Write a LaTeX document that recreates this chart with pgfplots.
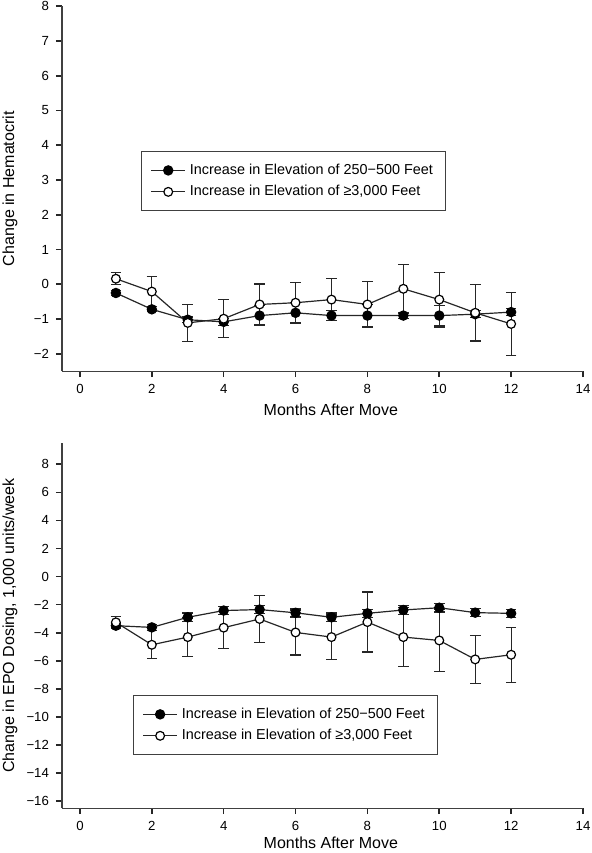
\documentclass[border=0pt]{standalone}
\usepackage{pgfplots}
\pgfplotsset{compat=1.18}
\usepackage{pgfplotstable}
\usepackage{fontspec}
\setmainfont{Liberation Sans}

\pgfplotstableread{
x y e
1 -0.25 0.07
2 -0.72 0.07
3 -1.02 0.08
4 -1.08 0.10
5 -0.90 0.29
6 -0.82 0.30
7 -0.90 0.15
8 -0.90 0.33
9 -0.90 0.08
10 -0.90 0.30
11 -0.86 0.10
12 -0.80 0.10
}\hctLow
\pgfplotstableread{
x y e
1 0.16 0.17
2 -0.21 0.44
3 -1.11 0.54
4 -0.99 0.55
5 -0.58 0.59
6 -0.53 0.58
7 -0.44 0.61
8 -0.58 0.65
9 -0.13 0.70
10 -0.44 0.79
11 -0.82 0.81
12 -1.14 0.90
}\hctHigh
\pgfplotstableread{
x y e
1 -3.50 0.15
2 -3.62 0.20
3 -2.90 0.30
4 -2.42 0.30
5 -2.35 0.30
6 -2.58 0.30
7 -2.90 0.30
8 -2.62 0.30
9 -2.38 0.30
10 -2.22 0.30
11 -2.57 0.30
12 -2.62 0.30
}\epoLow
\pgfplotstableread{
x y e
1 -3.26 0.40
2 -4.86 1.00
3 -4.31 1.36
4 -3.64 1.48
5 -3.02 1.66
6 -3.98 1.60
7 -4.31 1.57
8 -3.24 2.14
9 -4.31 2.10
10 -4.55 2.20
11 -5.90 1.72
12 -5.57 1.96
}\epoHigh

\pgfplotsset{
  mystyle/.style={
    scale only axis, width=260.5pt, height=182.5pt,
    axis lines*=left,
    axis line style={-, line width=0.7pt, black!75},
    xmin=-0.5, xmax=14,
    xtick={0,2,...,14},
    xmajorticks=true, ymajorticks=true,
    tick align=outside,
    major tick length=3pt,
    every tick/.append style={draw=black!85, line width=0.8pt},
    clip=false,
    ticklabel style={font=\fontsize{6.6}{8}\selectfont},
    /pgf/number format/assume math mode=true,
    label style={font=\fontsize{8}{9.6}\selectfont},
    xlabel={Months After Move},
    ylabel style={at={(axis description cs:-0.1,0.5)}, anchor=center},
    legend style={anchor=north west, draw=black!75, line width=0.6pt,
      font=\fontsize{7.2}{8.6}\selectfont, inner xsep=4.5pt, inner ysep=4pt},
    legend cell align=left,
  },
  lowser/.style={black!85, line width=0.6pt, mark=*, mark size=2.3pt,
    mark options={fill=black, draw=black, solid},
    error bars/.cd, y dir=both, y explicit, error mark=-,
    error mark options={rotate=90, black!85, mark size=2.65pt, line width=0.6pt},
    error bar style={black!85, line width=0.6pt}},
  highser/.style={black!85, line width=0.6pt, mark=*, mark size=2.2pt,
    mark options={fill=white, draw=black, solid},
    error bars/.cd, y dir=both, y explicit, error mark=-,
    error mark options={rotate=90, black!85, mark size=2.65pt, line width=0.6pt},
    error bar style={black!85, line width=0.6pt}},
}

\begin{document}
\begin{tikzpicture}
\path[use as bounding box] (-31pt,-240.9pt) rectangle (265pt,185.6pt);
\begin{axis}[mystyle,
  at={(0pt,0pt)}, anchor=south west,
  ymin=-2.5, ymax=8,
  ytick={-2,-1,0,1,2,3,4,5,6,7,8},
  yticklabels={−2,−1,0,1,2,3,4,5,6,7,8},
  ylabel={Change in Hematocrit},
  xlabel style={at={(axis description cs:0.516,-0.106)}, anchor=center},
  legend style={at={(rel axis cs:0.1516,0.603)}},
]
\addplot[lowser] table[x=x, y=y, y error=e] {\hctLow};
\addlegendentry{Increase in Elevation of 250−500 Feet}
\addplot[highser] table[x=x, y=y, y error=e] {\hctHigh};
\addlegendentry{Increase in Elevation of ≥3,000 Feet}
\end{axis}
\begin{axis}[mystyle,
  at={(0pt,-218.5pt)}, anchor=south west,
  ymin=-16.5, ymax=9.5,
  ytick={-16,-14,...,8},
  yticklabels={−16,−14,−12,−10,−8,−6,−4,−2,0,2,4,6,8},
  ylabel={Change in EPO Dosing, 1,000 units/week},
  xlabel style={at={(axis description cs:0.516,-0.094)}, anchor=center},
  legend style={at={(rel axis cs:0.136,0.310)}},
]
\addplot[lowser] table[x=x, y=y, y error=e] {\epoLow};
\addlegendentry{Increase in Elevation of 250−500 Feet}
\addplot[highser] table[x=x, y=y, y error=e] {\epoHigh};
\addlegendentry{Increase in Elevation of ≥3,000 Feet}
\end{axis}
\end{tikzpicture}
\end{document}
